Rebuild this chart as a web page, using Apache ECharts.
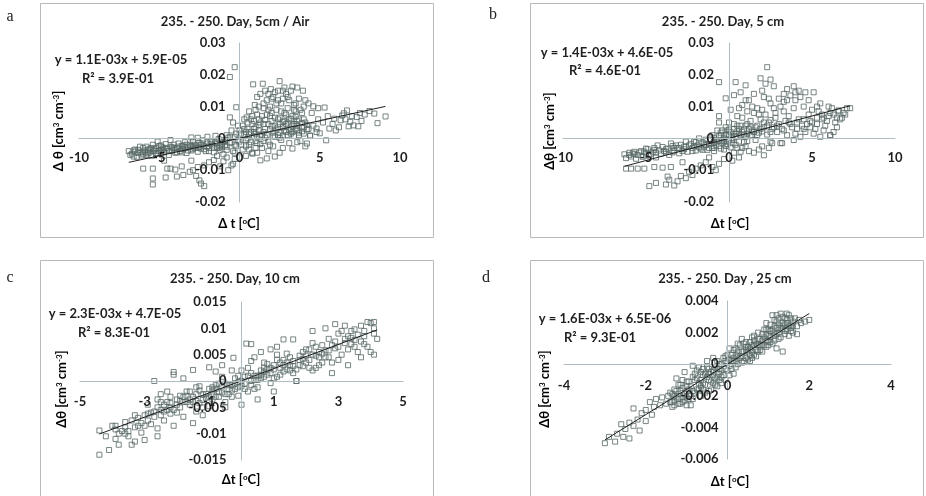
<!DOCTYPE html>
<html>
<head>
<meta charset="utf-8">
<script src="https://cdn.jsdelivr.net/npm/echarts@6/dist/echarts.min.js"></script>
<style>
  html, body { margin: 0; padding: 0; background: #fff; }
  #chart { width: 926px; height: 496px; }
</style>
</head>
<body>
<div id="chart"></div>
<script>
// Δt [°C] vs Δθ [cm3 cm-3], four depths, days 235-250
const titles = ['235. - 250. Day, 5cm / Air', '235. - 250. Day, 5 cm', '235. - 250. Day, 10 cm', '235. - 250. Day , 25 cm'];
const equations = ['y = 1.1E-03x + 5.9E-05', 'y = 1.4E-03x + 4.6E-05', 'y = 2.3E-03x + 4.7E-05', 'y = 1.6E-03x + 6.5E-06'];
const r2Texts = ['R² = 3.9E-01', 'R² = 4.6E-01', 'R² = 8.3E-01', 'R² = 9.3E-01'];
const panelLetters = ['a', 'b', 'c', 'd'];
const slopes = [1.1e-3, 1.4e-3, 2.3e-3, 1.6e-3];
const intercepts = [5.9e-5, 4.6e-5, 4.7e-5, 6.5e-6];

const xMins = [-10, -10, -5, -4];
const xMaxs = [10, 10, 5, 4];
const xSteps = [5, 5, 2, 2];
const yMins = [-0.02, -0.02, -0.015, -0.006];
const yMaxs = [0.03, 0.03, 0.015, 0.004];
const ySteps = [0.01, 0.01, 0.005, 0.002];

// panel a: 5 cm / air
const ptsA = [
  [-6.9,-.0040],[-6.8,-.0052],[-6.6,-.0057],[-6.5,-.0035],[-6.4,-.0058],[-6.2,-.0026],[-6.1,-.0044],[-6.0,-.0050],[-5.9,-.0038],[-5.8,-.0026],
  [-5.7,-.0047],[-5.6,-.0033],[-5.5,-.0055],[-5.4,-.0020],[-5.3,-.0040],[-5.2,-.0030],[-5.1,-.0048],[-5.0,-.0024],[-4.9,-.0036],[-4.8,-.0028],
  [-4.7,-.0044],[-4.6,-.0018],[-4.5,-.0032],[-4.4,-.0052],[-4.3,-.0026],[-4.2,-.0038],[-4.1,-.0020],[-4.0,-.0045],[-3.9,-.0030],[-3.8,-.0016],
  [-3.7,-.0040],[-3.6,-.0024],[-3.5,-.0034],[-3.4,-.0012],[-3.3,-.0046],[-3.2,-.0028],[-3.1,-.0020],[-3.0,-.0038],[-2.9,-.0010],[-2.8,-.0030],
  [-2.7,-.0022],[-2.6,-.0042],[-2.5,-.0014],[-2.4,-.0032],[-2.3,-.0006],[-2.2,-.0025],[-2.1,-.0040],[-2.0,-.0016],[-1.9,-.0030],[-1.8,-.0008],
  [-1.7,-.0022],[-1.6,-.0044],[-1.5,-.0012],[-1.4,-.0028],[-1.3,-.0002],[-1.2,-.0036],[-1.1,-.0018],[-1.0,-.0050],[-0.9,-.0008],[-0.8,-.0026],
  [-3.0,.0003],[-2.0,.0005],[-4.3,-.0005],[-1.5,.0008],[-5.1,-.0010],[-2.6,.0002],[-6.3,-.0046],[-5.7,-.0036],[-4.9,-.0046],[-3.6,-.0044],
  [-6.7,-.0048],[-6.5,-.0042],[-6.3,-.0036],[-6.0,-.0030],[-5.8,-.0052],[-5.6,-.0044],[-5.4,-.0038],[-5.2,-.0046],[-5.0,-.0040],[-4.8,-.0034],
  [-4.6,-.0030],[-4.4,-.0040],[-4.2,-.0028],[-4.0,-.0034],[-3.8,-.0026],[-3.6,-.0034],[-3.4,-.0028],[-3.2,-.0038],[-3.0,-.0024],[-2.8,-.0020],
  [-2.6,-.0030],[-2.4,-.0020],[-2.2,-.0034],[-2.0,-.0026],[-1.8,-.0018],[-1.6,-.0030],[-1.4,-.0016],[-1.2,-.0024],[-1.0,-.0012],[-0.8,-.0036],
  [-3.9,-.0044],[-4.9,-.0022],[-5.5,-.0030],[-2.9,-.0034],[-1.9,-.0040],[-0.9,-.0022],[-6.1,-.0054],[-3.3,-.0020],[-2.5,-.0026],[-1.3,-.0030],
  [-6.6,-.0038],[-5.9,-.0044],[-5.3,-.0034],[-4.7,-.0038],[-4.1,-.0030],[-3.5,-.0022],[-2.9,-.0026],[-2.3,-.0016],[-1.7,-.0012],[-1.1,-.0028],
  [-6.0,-.0095],[-5.4,-.0095],[-5.4,-.0126],[-5.4,-.0145],[-4.6,-.0123],[-4.5,-.0095],[-4.3,-.0095],[-4.0,-.0098],[-3.9,-.0120],[-3.6,-.0088],
  [-3.5,-.0115],[-3.1,-.0105],[-2.9,-.0100],[-2.7,-.0118],[-2.5,-.0132],[-2.4,-.0142],[-2.2,-.0150],[-2.6,-.0090],[-2.2,-.0085],[-1.9,-.0075],
  [-1.6,-.0068],[-1.2,-.0088],[-1.0,-.0072],[-0.7,-.0100],[-0.5,-.0085],[-0.3,-.0065],[-0.8,-.0060],[-1.4,-.0055],[-3.0,-.0070],[-4.7,-.0070],
  [-0.8,.0010],[-0.6,-.0015],[-0.5,.0025],[-0.4,-.0040],[-0.3,.0005],[-0.2,-.0025],[-0.1,.0040],[0.0,-.0010],[0.1,.0015],[0.2,-.0035],
  [0.3,.0030],[0.4,-.0005],[0.5,.0050],[0.6,-.0020],[0.7,.0020],[0.8,-.0045],[0.9,.0008],[1.0,.0035],[1.1,-.0015],[1.2,.0060],
  [1.3,.0012],[1.4,-.0030],[1.5,.0045],[1.6,.0002],[1.7,.0075],[1.8,-.0010],[1.9,.0028],[2.0,.0055],[2.1,-.0025],[2.2,.0040],
  [2.3,.0090],[2.4,.0010],[2.5,.0065],[2.6,-.0005],[2.7,.0035],[2.8,.0080],[2.9,.0020],[3.0,.0050],[3.1,-.0015],[3.2,.0030],
  [3.3,.0070],[3.4,.0008],[3.5,.0045],[3.6,.0025],[3.7,.0060],[3.8,-.0008],[3.9,.0035],[4.0,.0015],[4.1,.0050],[4.2,.0028],
  [4.4,.0008],[4.6,.0040],[4.8,.0020],
  [0.2,.0040],[0.6,.0012],[0.9,.0055],[1.2,.0025],[1.5,-.0008],[1.8,.0045],[2.1,.0018],[2.4,.0035],[2.7,.0052],[3.0,.0010],
  [3.3,.0040],[3.6,.0055],[3.9,.0022],[4.2,.0042],[2.2,.0065],[2.9,.0075],[1.4,.0070],[3.5,.0068],[0.4,-.0025],[1.1,-.0045],
  [-0.6,.0005],[-0.3,-.0045],[0.9,.0020],[2.5,.0002],[3.2,.0015],
  [-0.9,-.0005],[-0.7,.0002],[-0.5,-.0012],[-0.3,-.0020],[-0.1,-.0005],[0.1,-.0020],[0.3,.0010],[0.5,.0000],[0.7,-.0012],[0.9,.0030],
  [1.1,.0005],[1.3,-.0018],[1.5,.0020],[1.7,.0010],[1.9,-.0020],[2.1,.0008],[2.3,.0028],[2.5,.0018],[2.7,.0008],[2.9,.0045],
  [3.1,.0025],[3.3,.0020],[3.5,.0030],[3.7,.0018],[3.9,.0048],[0.0,.0025],[0.4,.0020],[0.8,.0045],[1.2,.0042],[1.6,.0058],
  [2.0,.0038],[2.4,.0060],[2.8,.0055],[3.2,.0062],[3.6,.0040],[4.0,.0035],[-0.2,.0015],[0.6,-.0035],[1.0,-.0008],[1.4,.0010],
  [0.5,.0030],[0.7,.0060],[1.0,.0015],[1.3,.0050],[1.6,.0030],[1.9,.0070],[2.2,.0005],[2.5,.0045],[2.8,.0025],[3.1,.0060],
  [3.4,.0045],[3.7,.0010],[4.0,.0060],[4.3,.0030],[1.8,.0090],[2.6,.0085],[3.4,.0090],[1.2,.0100],[2.3,.0110],[3.0,.0130],
  [3.9,.0080],[1.5,.0110],[2.0,.0125],[2.7,.0125],[3.5,.0110],[0.8,.0070],[1.1,.0130],[3.2,.0150],[2.4,.0150],[1.8,.0140],
  [0.85,.0170],[1.45,.0172],[2.5,.0180],[3.3,.0163],[3.6,.0160],[3.95,.0150],[2.7,.0150],[1.95,.0155],[2.1,.0130],[2.4,.0120],
  [3.1,.0120],[1.7,.0120],[4.1,.0120],[0.95,.0105],[-0.2,.0098],[0.45,.0066],[1.3,.0140],[2.9,.0140],[3.4,.0105],[1.0,.0090],
  [1.9,.0100],[2.6,.0110],[3.7,.0125],[0.6,.0085],[1.5,.0095],[2.2,.0145],[3.0,.0095],[3.8,.0090],[4.3,.0110],[2.0,.0080],
  [1.1,.0075],[3.5,.0085],[0.3,.0060],[-0.4,.0050],[2.8,.0160],[1.6,.0150],[4.5,.0080],[4.0,.0100],[-0.3,.0224],[-0.6,.0193],
  [-0.6,.0066],
  [0.8,-.0048],[0.0,-.0060],[-0.4,-.0080],[1.3,-.0069],[2.2,-.0057],[3.3,-.0032],[4.1,-.0025],[1.8,-.0040],[2.7,-.0030],[0.4,-.0055],
  [1.0,-.0030],[3.6,-.0012],[2.5,-.0045],[1.7,-.0063],
  [4.6,.0101],[5.3,.0097],[6.5,.0079],[7.5,.0080],[8.1,.0086],[8.6,.0048],[9.1,.0069],[7.4,.0038],[6.8,.0038],[5.4,-.0006],
  [6.0,.0025],[7.3,.0067],[6.3,.0057],[5.6,.0031],[5.0,.0016],[4.4,.0009],[4.8,.0031],[5.2,.0050],[5.8,.0045],[6.2,.0035],
  [6.6,.0060],[7.0,.0070],[7.8,.0075],[5.5,.0070],[4.9,.0060],[6.9,.0052],[8.4,.0078],[5.9,.0062],[7.6,.0055],[6.4,.0072],
  [6.7,.0088],[7.1,.0041],[4.9,.0095],[4.2,-.0016]
];

// panel b: 5 cm
const ptsB = [
  [-6.3,-.0050],[-6.2,-.0062],[-6.0,-.0045],[-5.9,-.0057],[-5.7,-.0042],[-5.6,-.0064],[-5.5,-.0052],[-5.3,-.0040],[-5.2,-.0058],[-5.0,-.0047],
  [-4.9,-.0034],[-4.8,-.0054],[-4.6,-.0042],[-4.5,-.0030],[-4.4,-.0060],[-4.2,-.0038],[-4.1,-.0048],[-4.0,-.0027],[-3.8,-.0042],[-3.7,-.0032],
  [-3.6,-.0052],[-3.4,-.0024],[-3.3,-.0038],[-3.1,-.0030],[-3.0,-.0047],[-2.9,-.0020],[-2.7,-.0034],[-2.6,-.0026],[-2.5,-.0042],[-2.3,-.0017],
  [-2.2,-.0030],[-2.1,-.0010],[-2.0,-.0038],[-1.9,-.0022],[-1.7,-.0032],[-1.6,-.0012],[-1.5,-.0026],[-1.4,-.0004],[-1.3,-.0036],[-1.2,-.0018],
  [-1.1,-.0008],[-1.0,-.0030],[-0.9,.0002],[-0.8,-.0020],[-0.7,-.0010],[-0.6,.0008],[-0.5,-.0032],[-0.4,-.0014],[-0.3,.0000],[-0.2,-.0024],
  [-0.1,.0013],[0.0,-.0007],[-2.6,-.0010],[-3.5,-.0016],[-1.8,.0000],[-0.4,.0025],[-1.0,.0010],[-4.3,-.0022],[-5.0,-.0032],[-5.8,-.0047],
  [-2.4,-.0022],[-2.2,-.0040],[-2.0,-.0012],[-1.8,-.0028],[-1.6,-.0036],[-1.4,-.0020],[-1.2,-.0030],[-1.0,-.0016],[-0.8,-.0006],[-0.6,-.0024],
  [-0.4,-.0004],[-0.2,-.0012],[0.0,.0010],[0.2,-.0005],[0.4,.0015],[0.6,-.0010],[0.8,.0020],[1.0,.0005],[1.2,.0030],[1.4,.0010],
  [-0.9,-.0040],[-0.5,.0018],[-0.1,.0025],[0.3,.0030],[0.7,.0040],[1.1,.0045],[1.5,.0020],[1.9,.0030],[2.3,.0040],[2.7,.0035],
  [-3.0,-.0030],[-3.4,-.0044],[-3.8,-.0034],[-4.4,-.0044],[-5.0,-.0054],[-5.4,-.0044],[-6.0,-.0052],[-4.7,-.0048],[-3.2,-.0022],[-2.8,-.0040],
  [-5.7,-.0050],[-5.1,-.0042],[-4.5,-.0036],[-3.9,-.0040],[-3.3,-.0030],[-2.7,-.0026],[-2.1,-.0024],[-1.5,-.0016],[-0.9,-.0012],[-0.3,-.0008],
  [-6.2,-.0095],[-5.9,-.0095],[-5.5,-.0095],[-5.1,-.0095],[-4.5,-.0090],[-4.0,-.0092],[-3.5,-.0090],[-4.8,-.0150],[-4.4,-.0140],[-3.8,-.0145],
  [-3.6,-.0130],[-3.3,-.0148],[-3.1,-.0135],[-2.9,-.0118],[-2.6,-.0125],[-2.4,-.0105],[-2.2,-.0115],[-2.0,-.0095],[-3.7,-.0120],[-1.7,-.0085],
  [-1.4,-.0075],[-1.0,-.0090],[-0.6,-.0080],[-0.3,-.0065],[-1.2,-.0060],[-2.8,-.0075],[-0.8,-.0100],[0.2,-.0070],
  [0.1,.0020],[0.2,-.0015],[0.3,.0045],[0.4,.0005],[0.5,-.0030],[0.6,.0030],[0.7,.0010],[0.8,.0065],[0.9,-.0012],[1.0,.0040],
  [1.1,.0015],[1.2,-.0040],[1.3,.0055],[1.4,.0025],[1.5,.0080],[1.6,-.0005],[1.7,.0040],[1.8,.0018],[1.9,.0060],[2.0,-.0025],
  [2.1,.0035],[2.2,.0075],[2.3,.0012],[2.4,.0050],[2.5,-.0010],[2.6,.0030],[2.8,.0065],[2.9,.0020],[3.0,.0045],[3.1,-.0015],
  [3.2,.0030],[3.4,.0055],[3.5,.0010],[3.6,.0070],[3.8,.0035],[4.0,.0015],[4.2,.0060],[4.4,.0040],[4.6,.0020],[4.8,.0075],
  [5.0,.0050],[5.2,.0030],[5.4,.0085],[5.6,.0060],[5.8,.0040],[6.0,.0070],[6.2,.0095],[6.4,.0050],[6.6,.0085],[6.8,.0065],
  [7.0,.0075],[7.3,.0095],[6.3,.0020],[6.1,.0010],[5.7,.0025],[5.5,.0005],[6.5,.0035],[4.3,.0005],[3.9,-.0005],[3.3,.0085],
  [2.7,.0095],[0.3,-.0045],[0.6,-.0060],[1.0,-.0025],[1.5,-.0045],[2.1,-.0053],[1.8,-.0035],[2.6,-.0015],[3.2,-.0015],[2.4,-.0030],
  [0.0,.0050],[-0.2,.0035],[0.5,.0070],[-0.6,.0050],[-0.6,.0070],
  [0.2,.0000],[0.5,.0022],[0.9,.0012],[1.3,.0035],[1.7,.0010],[2.1,.0050],[2.5,.0020],[2.9,.0040],[3.3,.0025],[3.7,.0045],
  [4.1,.0050],[4.5,.0030],[4.9,.0055],[5.3,.0045],[5.7,.0065],[6.1,.0080],[6.5,.0065],[6.9,.0080],[1.4,.0100],[2.4,.0125],
  [3.5,.0120],[4.3,.0130],[1.0,.0120],[3.1,.0100],[2.0,.0150],[4.0,.0145],[0.6,.0095],[5.3,.0100],[1.8,.0075],[2.8,.0080],
  [3.6,.0050],[4.1,.0030],[4.5,.0060],[4.9,.0035],[5.3,.0065],[5.9,.0055],[6.3,.0075],[6.7,.0060],[5.1,.0015],[4.7,.0045],
  [-0.9,-.0030],[-0.7,.0025],[-0.5,.0010],[-0.3,-.0035],[-0.1,-.0018],[0.1,-.0028],[0.2,.0008],[0.4,-.0020],[0.6,.0015],[0.8,-.0030],
  [0.9,.0028],[1.1,-.0008],[1.3,.0008],[0.0,.0028],[-0.2,.0010],[0.5,.0040],[0.7,-.0042],[1.6,.0035],[2.0,.0022],[2.5,.0058],
  [-0.6,.0177],[2.3,.0224],[0.4,.0177],[1.0,.0167],[1.9,.0189],[2.7,.0164],[3.5,.0155],[3.9,.0164],[4.2,.0150],[5.1,.0145],
  [4.6,.0145],[2.1,.0130],[-0.2,.0126],[0.3,.0136],[1.2,.0120],[1.5,.0140],[3.0,.0125],[3.7,.0135],[4.0,.0120],[0.8,.0105],
  [1.7,.0095],[2.5,.0110],[3.3,.0115],[4.5,.0100],[5.5,.0110],[0.1,.0090],[1.1,.0085],[2.0,.0090],[3.9,.0095],[5.0,.0090],
  [6.0,.0100],[0.7,.0145],[4.8,.0120],[2.2,.0172],[2.5,.0185],[3.3,.0140],[6.6,.0088],[7.1,.0095],[6.1,.0010],[5.6,.0075]
];

// panel c: 10 cm
const ptsC = [
  [-4.4,-.0094],[-4.4,-.0140],[-4.1,-.0131],[-4.0,-.0085],[-3.9,-.0110],[-3.8,-.0121],[-3.7,-.0095],[-3.6,-.0078],[-3.5,-.0105],[-3.4,-.0121],
  [-3.3,-.0088],[-3.2,-.0070],[-3.1,-.0098],[-3.0,-.0112],[-2.9,-.0062],[-2.8,-.0082],[-2.7,-.0068],[-2.6,-.0090],[-2.5,-.0055],[-2.4,-.0075],
  [-2.3,-.0040],[-2.2,-.0062],[-2.1,-.0085],[-2.0,-.0035],[-1.9,-.0050],[-1.8,-.0068],[-1.7,-.0028],[-1.6,-.0045],[-1.5,-.0030],[-1.4,-.0058],
  [-1.3,-.0018],[-1.2,-.0036],[-1.1,-.0025],[-1.0,-.0048],[-0.9,-.0012],[-0.8,-.0030],[-0.7,-.0005],[-0.6,-.0022],[-0.5,-.0040],[-0.4,-.0008],
  [-0.3,-.0018],[-0.2,.0005],[-0.1,-.0028],[0.0,-.0010],[0.1,.0008],[0.2,-.0020],[0.3,.0015],[0.4,.0002],[0.5,-.0012],[0.6,.0020],
  [0.7,.0008],[0.8,.0032],[0.9,-.0004],[1.0,.0022],[1.1,.0040],[1.2,.0012],[1.3,.0030],[1.4,.0052],[1.5,.0020],[1.6,.0038],
  [1.7,.0000],[1.8,.0048],[1.9,.0028],[2.0,.0060],[2.1,.0040],[2.2,.0072],[2.3,.0025],[2.4,.0055],[2.5,.0068],[2.6,.0045],
  [2.7,.0080],[2.8,.0035],[2.9,.0062],[3.0,.0090],[3.1,.0050],[3.2,.0072],[3.3,.0060],[3.4,.0095],[3.5,.0078],[3.6,.0055],
  [3.7,.0105],[3.8,.0085],[3.9,.0065],[4.0,.0110],[4.1,.0090],[4.2,.0080],[4.0,.0055],
  [-2.7,.0000],[-2.1,.0017],[-2.1,.0012],[-1.8,.0005],[-1.5,.0021],[-1.0,.0026],[-0.8,.0018],[-0.6,.0030],[-0.25,.0044],[0.15,.0071],
  [0.3,.0070],[1.3,.0079],[1.6,.0079],[2.2,.0095],[2.6,.0100],[3.2,.0105],[3.5,.0098],[3.9,.0112],[4.1,.0112],[2.9,.0108],
  [0.6,.0055],[0.9,.0060],[1.1,.0065],[0.4,.0045],[-0.3,.0020],[1.7,.0000],[2.2,.0020],[2.8,.0015],[3.3,.0030],[3.7,.0045],
  [4.1,.0050],[1.0,-.0020],[0.5,-.0035],[0.0,-.0045],[-0.5,-.0050],[-1.2,-.0065],[-1.5,-.0080],[-2.6,-.0105],[-3.3,-.0115],[-3.6,-.0100],
  [-2.9,-.0045],[-2.6,-.0035],[-2.4,-.0058],[-2.2,-.0030],[-2.0,-.0060],[-1.8,-.0040],[-1.6,-.0020],[-1.4,-.0038],[-1.2,-.0050],[-1.0,-.0015],
  [-0.9,-.0035],[-0.7,-.0020],[-0.5,-.0005],[-0.3,-.0030],[-0.1,.0010],[0.1,-.0005],[0.2,.0025],[0.4,-.0015],[0.6,.0005],[0.7,.0035],
  [0.8,.0012],[0.9,.0025],[1.1,.0008],[1.2,.0035],[1.4,.0022],[1.5,.0045],[1.6,.0015],[1.8,.0030],[1.9,.0055],[2.1,.0025],
  [2.3,.0048],[2.5,.0035],[2.7,.0058],[0.0,.0020],[-0.2,-.0015],[0.3,-.0008],[-2.5,-.0025],[-2.3,-.0020],[-1.9,-.0028],[-1.3,-.0010],
  [-0.8,-.0008],[-0.4,-.0025],[0.5,.0010],[1.0,.0005],[1.3,.0018],[2.0,.0035],[2.4,.0030],[3.0,.0040],[3.4,.0070],[3.8,.0070],
  [-4.2,-.0105],[-3.9,-.0092],[-3.6,-.0088],[-3.4,-.0075],[-3.2,-.0085],[-3.0,-.0065],[-2.8,-.0060],[-2.6,-.0050],[-2.4,-.0045],[-2.2,-.0050],
  [-2.0,-.0045],[-1.8,-.0030],[-1.6,-.0035],[-1.4,-.0025],[-1.2,-.0025],[-1.0,-.0030],[-0.8,-.0015],[-0.6,-.0010],[-0.4,-.0015],[-0.2,-.0005],
  [0.0,.0000],[0.2,.0010],[0.4,.0010],[0.6,.0012],[0.8,.0022],[1.0,.0030],[1.2,.0025],[1.4,.0035],[1.6,.0028],[1.8,.0040],
  [2.0,.0048],[2.2,.0050],[2.4,.0045],[2.6,.0058],[2.8,.0068],[3.0,.0065],[3.2,.0080],[3.4,.0082],[3.6,.0088],[3.8,.0095],
  [-2.9,-.0075],[-2.5,-.0065],[-2.1,-.0055],[-1.7,-.0040],[-1.3,-.0042],[-0.9,-.0025],[-0.5,-.0025],[-0.1,-.0012],[0.3,.0000],[0.7,.0018],
  [-3.8,-.0100],[-3.5,-.0095],[-3.1,-.0080],[-2.7,-.0058],[-2.3,-.0055],[-1.9,-.0038],[-1.5,-.0040],[-1.1,-.0032],[-0.7,-.0030],[-0.3,-.0008],
  [0.1,-.0015],[0.5,.0002],[0.9,.0015],[1.3,.0040],[1.7,.0022],[2.1,.0060],[2.5,.0052],[2.9,.0075],[3.3,.0085],[3.7,.0075],
  [4.1,.0100],[3.1,.0095],[2.3,.0065],[1.5,.0030],[0.7,.0025],[-0.1,-.0002],[-0.9,-.0018],[-1.7,-.0020],[-2.5,-.0040],[-3.3,-.0065],
  [1.9,.0042],[2.7,.0045],[3.5,.0065],[1.1,.0050],[0.3,.0038],[-0.6,.0008],[-1.4,-.0012],[-2.2,-.0042],[-3.0,-.0085],[-3.9,-.0085]
];

// panel d: 25 cm
const ptsD = [
  [-3.0,-.0050],[-2.9,-.0046],[-2.75,-.0049],[-2.7,-.0044],[-2.55,-.0046],[-2.4,-.0047],[-2.6,-.0038],[-2.5,-.0041],[-2.4,-.0037],[-2.3,-.0039],
  [-2.2,-.0035],[-2.15,-.0042],[-2.1,-.0031],[-2.3,-.0028],[-2.0,-.0036],[-1.9,-.0024],[-1.8,-.0027],[-1.75,-.0022],[-1.65,-.0026],[-1.6,-.0021],
  [-1.5,-.0025],[-1.45,-.0020],[-1.35,-.0027],[-1.3,-.0023],[-1.2,-.0019],[-1.1,-.0024],[-1.0,-.0021],[-0.9,-.0026],[-2.0,-.0029],[-1.85,-.0032],
  [-1.4,-.0018],[-1.35,-.0024],[-1.3,-.0016],[-1.25,-.0021],[-1.2,-.0013],[-1.15,-.0025],[-1.1,-.0015],[-1.05,-.0019],[-1.0,-.0011],[-0.95,-.0022],
  [-0.9,-.0014],[-0.85,-.0008],[-0.8,-.0018],[-0.75,-.0004],[-0.7,-.0012],[-0.65,-.0020],[-0.6,-.0007],[-0.55,-.0013],[-0.5,-.0002],[-0.45,-.0010],
  [-0.4,-.0016],[-0.35,-.0004],[-0.3,-.0009],[-0.25,.0002],[-0.2,-.0006],[-0.15,-.0012],[-0.1,.0004],[-0.05,-.0003],[0.0,.0006],[0.05,-.0007],
  [0.1,.0002],[0.15,.0009],[0.2,-.0002],[0.25,.0005],[0.3,.0012],[0.35,.0001],[0.4,.0008],[0.45,.0014],[0.5,.0003],[0.55,.0010],
  [0.6,.0017],[0.65,.0006],[0.7,.0013],[0.75,.0020],[0.8,.0009],[0.85,.0015],[0.9,.0022],[0.95,.0011],[1.0,.0018],[1.05,.0025],
  [1.1,.0013],[1.15,.0020],[1.2,.0027],[1.25,.0016],[1.3,.0023],[1.35,.0030],[1.4,.0019],[1.45,.0026],[1.5,.0031],[1.55,.0021],
  [1.6,.0027],[1.7,.0024],[1.75,.0028],[1.9,.0027],[2.0,.0028],[1.1,.0031],[1.3,.0032],[1.45,.0032],[0.5,.0008],[1.35,.0008],
  [0.9,.0012],[1.2,.0010],[-1.3,-.0020],[-1.2,-.0022],[-1.1,-.0010],[-1.0,-.0017],[-0.9,-.0020],[-0.8,-.0010],[-0.7,-.0016],[-0.6,-.0012],
  [-0.5,-.0008],[-0.4,-.0005],[-0.3,-.0013],[-0.2,.0000],[-0.1,-.0007],[0.0,.0001],[0.1,-.0003],[0.2,.0006],[0.3,.0004],[0.4,.0002],
  [0.5,.0011],[0.6,.0008],[0.7,.0005],[0.8,.0016],[0.9,.0017],[1.0,.0012],[1.1,.0022],[1.2,.0019],[1.3,.0017],[1.4,.0025],
  [1.5,.0024],[1.6,.0020],[-0.7,-.0002],[-0.5,.0002],[-0.35,.0004],[0.05,.0010],[0.25,.0013],[0.65,.0018],[0.95,.0026],[1.15,.0028],
  [-1.25,-.0009],[-1.05,-.0005],[-0.85,-.0001],[-0.65,-.0005],[-0.45,-.0017],[-0.25,-.0014],[-0.05,-.0010],[0.15,-.0006],[0.35,.0016],[0.55,.0002],
  [0.75,.0012],[0.95,.0019],[1.15,.0015],[1.35,.0022],[1.55,.0029],[1.25,.0025],[1.05,.0021],[0.85,.0008],[0.45,.0004],[-0.15,.0000],
  [-1.3,-.0026],[-1.2,-.0025],[-1.1,-.0021],[-1.0,-.0026],[-0.95,-.0016],[-0.85,-.0022],[-0.75,-.0016],[-0.65,-.0014],[-0.55,-.0018],[-0.45,-.0006],
  [-0.35,-.0012],[-0.25,-.0008],[-0.15,-.0004],[-0.05,.0002],[0.05,.0003],[0.15,.0002],[0.25,.0000],[0.35,.0008],[0.45,.0009],[0.55,.0014],
  [0.65,.0012],[0.75,.0016],[0.85,.0019],[0.95,.0015],[1.05,.0017],[1.15,.0024],[1.25,.0020],[1.35,.0026],[1.45,.0022],[1.55,.0025],
  [-0.6,-.0016],[-0.4,-.0011],[-0.2,-.0003],[0.0,-.0004],[0.2,.0010],[0.4,.0013],[0.6,.0004],[0.8,.0012],[1.0,.0022],[1.2,.0023],
  [1.4,.0029],[1.6,.0024],[1.7,.0019],[1.8,.0026],[1.5,.0018],[-1.15,-.0017],[-0.8,-.0006],[-0.3,-.0002],[0.1,.0006],[0.7,.0009],
  [-1.4,-.0024],[-1.35,-.0019],[-1.25,-.0017],[-1.15,-.0013],[-1.05,-.0023],[-0.95,-.0011],[-0.85,-.0017],[-0.75,-.0009],[-0.65,-.0010],[-0.55,-.0006],
  [-0.45,-.0003],[-0.35,-.0007],[-0.25,-.0003],[-0.15,-.0008],[-0.05,.0005],[0.05,-.0001],[0.15,.0004],[0.25,.0008],[0.35,.0005],[0.45,.0011],
  [0.55,.0006],[0.65,.0015],[0.75,.0008],[0.85,.0012],[0.95,.0022],[1.05,.0014],[1.15,.0018],[1.25,.0029],[1.35,.0024],[1.45,.0029],
  [1.55,.0023],[1.65,.0029],[-1.0,-.0014],[-0.6,-.0003],[-0.2,-.0010],[0.2,.0002],[0.6,.0012],[1.0,.0015],[1.4,.0021],[1.2,.0031]
];

const points = [ptsA, ptsB, ptsC, ptsD];

// layout in px (926 x 496 canvas)
const LAYOUT = [
  { grid: [79, 43, 321, 159], box: [40.5, 3.5, 393, 234], title: [235, 22], eq: [121, 60], r2: [118, 79], yName: [59, 131], xName: [239, 224], letter: [10, 17], xMargin: 13, yMargin: 14, yTitle: 'Δ θ', xTitle: 'Δ t' },
  { grid: [563, 43, 332, 159], box: [530.5, 3.5, 393, 234], title: [723, 22], eq: [607, 53], r2: [605, 71], yName: [550, 131], xName: [730, 224], letter: [493, 15], xMargin: 13, yMargin: 15, yTitle: 'Δθ', xTitle: 'Δt' },
  { grid: [80, 302, 323, 158], box: [40.5, 260.5, 393, 240], title: [235, 279], eq: [115, 314], r2: [114, 333], yName: [62, 389], xName: [241, 480], letter: [10, 278], xMargin: 14, yMargin: 15, yTitle: 'Δθ', xTitle: 'Δt' },
  { grid: [564, 301, 327, 158], box: [530.5, 260.5, 393, 240], title: [725, 279], eq: [605, 319], r2: [600, 338], yName: [545, 389], xName: [730, 482], letter: [486, 278], xMargin: 15, yMargin: 9, yTitle: 'Δθ', xTitle: 'Δt' }
];

const FONT = 'Lato, "Open Sans", sans-serif';
const TEXT = '#1f1f1f';
const AXIS_COLOR = '#aebdc1';
const MARK_COLOR = '#566865';

const chart = echarts.init(document.getElementById('chart'), null, { renderer: 'canvas' });

const grids = [], xAxes = [], yAxes = [], series = [], graphics = [];

function txt(x, y, text, size) {
  return {
    type: 'text', x, y, z: 10,
    style: {
      text, fill: TEXT, font: `bold ${size}px ${FONT}`,
      align: 'center', verticalAlign: 'middle',
      textAlign: 'center', textVerticalAlign: 'middle'
    }
  };
}

const richStyles = {
  n: { fontFamily: FONT, fontWeight: 'bold', fontSize: 13, color: TEXT },
  s: { fontFamily: FONT, fontWeight: 'bold', fontSize: 8, color: TEXT, verticalAlign: 'top', padding: [0, 0, 6, 0] }
};

LAYOUT.forEach((L, i) => {
  const [gl, gt, gw, gh] = L.grid;
  grids.push({ left: gl, top: gt, width: gw, height: gh });

  // Excel style: axes cross at the origin, labels sit next to the crossing lines
  const zeroY = gt + gh * yMaxs[i] / (yMaxs[i] - yMins[i]);
  const zeroX = gl + gw * (-xMins[i]) / (xMaxs[i] - xMins[i]);

  xAxes.push({
    type: 'value', gridIndex: i, min: xMins[i], max: xMaxs[i], interval: xSteps[i], z: 5,
    position: 'bottom', offset: zeroY - (gt + gh),
    axisLine: { onZero: false, lineStyle: { color: AXIS_COLOR, width: 1 } },
    axisTick: { show: false }, splitLine: { show: false },
    axisLabel: { margin: L.xMargin, color: TEXT, fontFamily: FONT, fontWeight: 'bold', fontSize: 13 }
  });
  yAxes.push({
    type: 'value', gridIndex: i, min: yMins[i], max: yMaxs[i], interval: ySteps[i], z: 5,
    position: 'left', offset: gl - zeroX,
    axisLine: { onZero: false, lineStyle: { color: AXIS_COLOR, width: 1 } },
    axisTick: { show: false }, splitLine: { show: false },
    axisLabel: {
      margin: L.yMargin, color: TEXT, fontFamily: FONT, fontWeight: 'bold', fontSize: 13,
      formatter: v => String(+v.toFixed(4))
    }
  });

  series.push({
    type: 'scatter', xAxisIndex: i, yAxisIndex: i, data: points[i], silent: true,
    symbol: 'rect', symbolSize: 5,
    itemStyle: { color: 'rgba(0,0,0,0)', borderColor: MARK_COLOR, borderWidth: 1 }
  });

  // linear trendline across the data's x range
  const xs = points[i].map(p => p[0]);
  const x0 = Math.min(...xs), x1 = Math.max(...xs);
  series.push({
    type: 'line', xAxisIndex: i, yAxisIndex: i, silent: true, symbol: 'none', z: 4,
    data: [[x0, slopes[i] * x0 + intercepts[i]], [x1, slopes[i] * x1 + intercepts[i]]],
    lineStyle: { color: '#1e1e1e', width: 1 }
  });

  graphics.push({
    type: 'rect', z: 0, silent: true,
    shape: { x: L.box[0], y: L.box[1], width: L.box[2], height: L.box[3] },
    style: { fill: 'none', stroke: '#b9b9b9', lineWidth: 1 }
  });
  graphics.push(txt(L.title[0], L.title[1], titles[i], 13));
  graphics.push(txt(L.eq[0], L.eq[1], equations[i], 13));
  graphics.push(txt(L.r2[0], L.r2[1], r2Texts[i], 13));
  graphics.push({
    type: 'text', x: L.letter[0], y: L.letter[1], z: 10,
    style: { text: panelLetters[i], fill: '#222', font: '16px "Liberation Serif", serif',
             align: 'center', verticalAlign: 'middle', textAlign: 'center', textVerticalAlign: 'middle' }
  });
  graphics.push({
    type: 'text', x: L.xName[0], y: L.xName[1], z: 10,
    style: {
      text: `{n|${L.xTitle} [}{s|o}{n|C]}`, rich: richStyles,
      align: 'center', verticalAlign: 'middle', textAlign: 'center', textVerticalAlign: 'middle'
    }
  });
  graphics.push({
    type: 'text', x: L.yName[0], y: L.yName[1], z: 10, rotation: Math.PI / 2,
    style: {
      text: `{n|${L.yTitle} [cm}{s|3}{n| cm}{s|-3}{n|]}`, rich: richStyles,
      align: 'center', verticalAlign: 'middle', textAlign: 'center', textVerticalAlign: 'middle'
    }
  });
});

chart.setOption({
  animation: false,
  grid: grids,
  xAxis: xAxes,
  yAxis: yAxes,
  series,
  graphic: { elements: graphics }
});
</script>
</body>
</html>
